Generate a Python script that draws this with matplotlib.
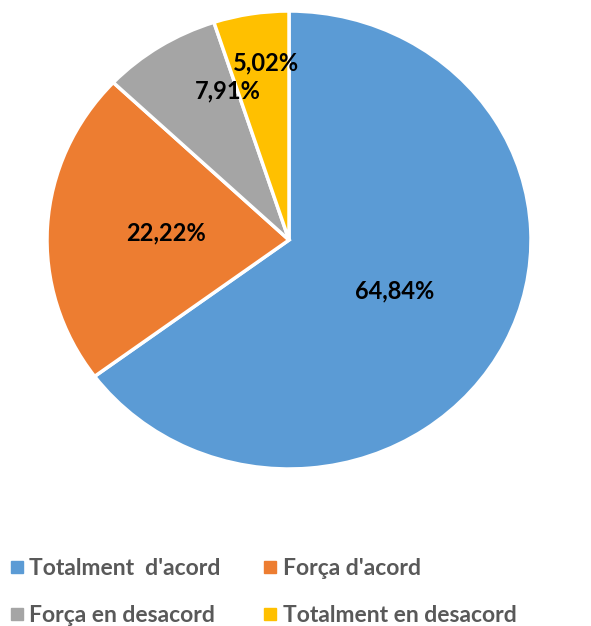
import matplotlib.pyplot as plt
from matplotlib.lines import Line2D
import numpy as np

categories = ["Totalment  d'acord", "Força d'acord", "Força en desacord", "Totalment en desacord"]
values = [64.84, 22.22, 7.91, 5.02]
colors = ['#5B9BD5', '#ED7D31', '#A5A5A5', '#FFC000']

# label placement (radius, angle nudge in degrees), Excel moved the small ones a bit
label_r = [0.49, 0.51, 0.70, 0.78]
label_nudge = [0, 0, -11, -2]

plt.rcParams['font.family'] = ['Lato', 'DejaVu Sans']

W, H = 591, 626
fig = plt.figure(figsize=(W / 100, H / 100), dpi=100)
cx, cy, rx, ry = 289, 240, 242, 229
ax = fig.add_axes([(cx - rx) / W, (H - cy - ry) / H, 2 * rx / W, 2 * ry / H])

wedges, _ = ax.pie(values, colors=colors, startangle=90, counterclock=False,
                   wedgeprops=dict(edgecolor='white', linewidth=2.5))
ax.set_aspect('auto')
ax.set_xlim(-1, 1)
ax.set_ylim(-1, 1)

for w, v, r, nd in zip(wedges, values, label_r, label_nudge):
    ang = np.deg2rad((w.theta1 + w.theta2) / 2 + nd)
    ax.text(r * np.cos(ang), r * np.sin(ang), f"{v:.2f}%".replace('.', ','),
            ha='center', va='center', fontsize=17, fontweight='bold', color='black')

# legend fills by column, so reorder to get row-wise order
order = [0, 2, 1, 3]
handles = [Line2D([], [], marker='s', linestyle='', markersize=8, color=colors[i]) for i in order]
leg = fig.legend(handles, [categories[i] for i in order], ncol=2, loc='upper left',
                 bbox_to_anchor=(-0.022, 0.141), frameon=False,
                 prop=dict(size=16.5, weight='bold'), handletextpad=0.15,
                 columnspacing=1.75, labelspacing=1.1, handlelength=0.8)
for t in leg.get_texts():
    t.set_color('#595959')

fig.savefig('out.png', dpi=100)
